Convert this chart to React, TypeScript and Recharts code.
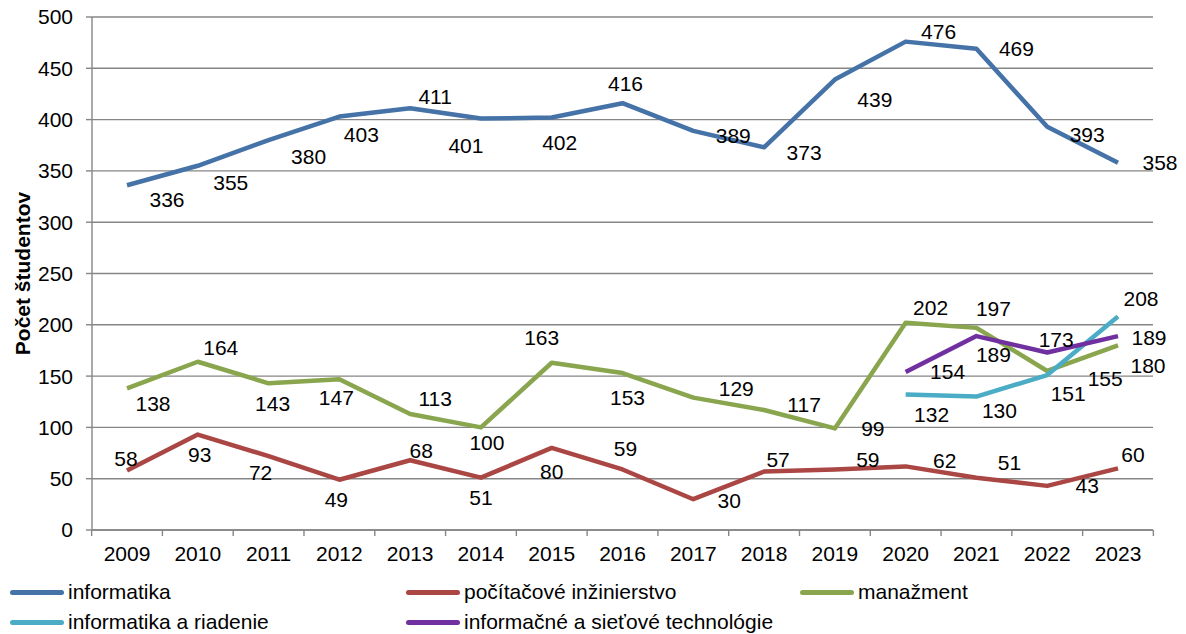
import React from "react";
import { CartesianGrid, LabelList, Legend, Line, LineChart, XAxis, YAxis } from "recharts";

const years = ["2009", "2010", "2011", "2012", "2013", "2014", "2015", "2016", "2017", "2018", "2019", "2020", "2021", "2022", "2023"];

const informatika = [336, 355, 380, 403, 411, 401, 402, 416, 389, 373, 439, 476, 469, 393, 358];
const pocitacoveInzinierstvo = [58, 93, 72, 49, 68, 51, 80, 59, 30, 57, 59, 62, 51, 43, 60];
const manazment = [138, 164, 143, 147, 113, 100, 163, 153, 129, 117, 99, 202, 197, 155, 180];
const informatikaARiadenie = [null, null, null, null, null, null, null, null, null, null, null, 132, 130, 151, 208];
const informacneASietove = [null, null, null, null, null, null, null, null, null, null, null, 154, 189, 173, 189];

const yTicks = [0, 50, 100, 150, 200, 250, 300, 350, 400, 450, 500];

// where each data label sits relative to its point (dx, dy)
const labelOffsets: Record<string, [number, number][]> = {
  inf: [[40, 14], [33, 17], [40, 16], [22, 18], [25, -12], [-15, 27], [8, 25], [3, -20], [40, 5], [40, 5], [40, 20], [33, -10], [40, 0], [40, 8], [42, 0]],
  pi: [[-1, -12], [2, 20], [-8, 16], [-3, 20], [11, -10], [0, 20], [0, 24], [3, -21], [36, 1], [14, -12], [33, -10], [39, -6], [33, -15], [40, 0], [15, -14]],
  man: [[26, 15], [23, -14], [4, 20], [-3, 18], [25, -16], [6, 15], [-10, -25], [5, 24], [43, -9], [40, -5], [38, 0], [25, -15], [17, -19], [58, 8], [30, 20]],
  iar: Array(11).fill([0, 0]).concat([[26, 20], [23, 14], [21, 18], [23, -18]]),
  ist: Array(11).fill([0, 0]).concat([[42, 0], [17, 18], [9, -13], [31, 1]]),
};

const series = [
  { key: "inf", name: "informatika", color: "#4572A7", values: informatika },
  { key: "pi", name: "počítačové inžinierstvo", color: "#AA4643", values: pocitacoveInzinierstvo },
  { key: "man", name: "manažment", color: "#89A54E", values: manazment },
  { key: "iar", name: "informatika a riadenie", color: "#4BACC6", values: informatikaARiadenie },
  { key: "ist", name: "informačné a sieťové technológie", color: "#7030A0", values: informacneASietove },
];

const data = years.map((year, i) => {
  const row: Record<string, string | number | null> = { year };
  series.forEach((s) => (row[s.key] = s.values[i]));
  return row;
});

const FONT = "'Liberation Sans', Arial, sans-serif";
const FS = 21;
const GRID = "#868686";
const HALF_BAND = 35.37;

function makeLabel(key: string) {
  return (props: any) => {
    const { x, y, value, index } = props;
    if (value == null || x == null || y == null) return null;
    const [dx, dy] = labelOffsets[key][index] ?? [0, -16];
    return (
      <text x={x + dx} y={y + dy} textAnchor="middle" dominantBaseline="central" fontSize={FS} fontFamily={FONT} fill="#000">
        {value}
      </text>
    );
  };
}

function YearTick(props: any) {
  const { x, y, payload, index } = props;
  const axisY = y - 6;
  return (
    <g>
      <line x1={x - HALF_BAND} x2={x - HALF_BAND} y1={axisY} y2={axisY + 6} stroke={GRID} strokeWidth={1.4} />
      {index === years.length - 1 && (
        <line x1={x + HALF_BAND} x2={x + HALF_BAND} y1={axisY} y2={axisY + 6} stroke={GRID} strokeWidth={1.4} />
      )}
      <text x={x} y={axisY + 23} textAnchor="middle" dominantBaseline="central" fontSize={FS} fontFamily={FONT} fill="#000">
        {payload.value}
      </text>
    </g>
  );
}

function renderLegend() {
  const cols = [2, 398, 792];
  return (
    <div style={{ position: "relative", height: 68, fontFamily: FONT, fontSize: FS, color: "#000" }}>
      {series.map((s, i) => (
        <div
          key={s.key}
          style={{
            position: "absolute",
            left: cols[i % 3],
            top: Math.floor(i / 3) * 30 + 12,
            display: "flex",
            alignItems: "center",
            whiteSpace: "nowrap",
          }}
        >
          <span style={{ display: "inline-block", width: 54, height: 5, borderRadius: 3, background: s.color }} />
          <span style={{ marginLeft: 4, lineHeight: "28px" }}>{s.name}</span>
        </div>
      ))}
    </div>
  );
}

export default function App() {
  return (
    <LineChart width={1178} height={626} data={data} margin={{ top: 9, right: 33, bottom: 0, left: 0 }}>
      <CartesianGrid vertical={false} stroke={GRID} strokeWidth={1.4} />
      <XAxis
        dataKey="year"
        height={36}
        padding={{ left: 35, right: 35 }}
        axisLine={{ stroke: GRID, strokeWidth: 1.4 }}
        tickLine={false}
        tickSize={6}
        tickMargin={0}
        interval={0}
        tick={<YearTick />}
      />
      <YAxis
        width={84}
        domain={[0, 500]}
        ticks={yTicks}
        interval={0}
        axisLine={{ stroke: GRID, strokeWidth: 1.4 }}
        tickLine={{ stroke: GRID, strokeWidth: 1.4 }}
        tickSize={6}
        tickMargin={13}
        tick={{ fill: "#000", fontSize: FS, fontFamily: FONT }}
        label={{
          content: (p: any) => {
            const vb = p.viewBox;
            const cx = vb.x + 14;
            const cy = vb.y + vb.height / 2;
            return (
              <text
                x={cx}
                y={cy}
                transform={`rotate(-90 ${cx} ${cy})`}
                textAnchor="middle"
                dominantBaseline="central"
                fontSize={21}
                fontWeight="bold"
                fontFamily={FONT}
                fill="#000"
              >
                Počet študentov
              </text>
            );
          },
        }}
      />
      <Legend verticalAlign="bottom" content={renderLegend} wrapperStyle={{ left: 0, width: 1178 }} />
      {series.map((s) => (
        <Line
          key={s.key}
          dataKey={s.key}
          name={s.name}
          stroke={s.color}
          strokeWidth={4.5}
          strokeLinejoin="round"
          dot={false}
          activeDot={false}
          isAnimationActive={false}
        >
          <LabelList dataKey={s.key} content={makeLabel(s.key)} />
        </Line>
      ))}
    </LineChart>
  );
}
